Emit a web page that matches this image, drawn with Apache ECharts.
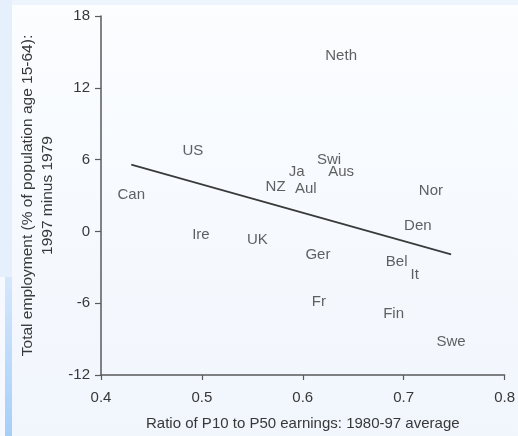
<!DOCTYPE html>
<html>
<head>
<meta charset="utf-8">
<script src="https://cdn.jsdelivr.net/npm/echarts@6/dist/echarts.min.js"></script>
<style>
html,body{margin:0;padding:0;background:#eef5fd;}
#c{width:518px;height:436px;}
</style>
</head>
<body>
<div id="c"></div>
<script>
const countries = ['Neth','US','Can','Swi','Ja','Aus','NZ','Aul','Nor','Den','Ire','UK','Ger','Bel','It','Fr','Fin','Swe'];
const ratioP10P50 = [0.638,0.491,0.430,0.626,0.594,0.638,0.573,0.603,0.727,0.714,0.499,0.555,0.615,0.693,0.711,0.616,0.690,0.747];
const employmentChange = [14.67,6.75,3.08,6.0,5.0,5.0,3.75,3.58,3.42,0.5,-0.33,-0.67,-2.0,-2.58,-3.67,-5.92,-6.92,-9.25];
const fitX = [0.43, 0.747];
const fitY = [5.58, -1.92];
const xTicks = [0.4, 0.5, 0.6, 0.7, 0.8];
const yTicks = [-12, -6, 0, 6, 12, 18];

const chart = echarts.init(document.getElementById('c'), null, {renderer:'canvas'});
const font = 'Liberation Sans, Arial, Helvetica, sans-serif';
const txt = '#383838';
chart.setOption({
  backgroundColor: 'transparent',
  animation: false,
  graphic: [
    {type:'rect', left:0, top:0, shape:{width:518,height:436}, style:{fill:'#eef5fd'}, z:-10, silent:true},
    {type:'rect', left:0, top:0, shape:{width:12,height:277}, style:{fill:'#e6f0fc'}, z:-9, silent:true},
    {type:'rect', left:12, top:5, shape:{width:506,height:431},
      style:{fill:new echarts.graphic.LinearGradient(0,0,0,1,[{offset:0,color:'#fbfdff'},{offset:1,color:'#f1f6fd'}])}, z:-9, silent:true},
    {type:'rect', left:0, top:277, shape:{width:5,height:159}, style:{fill:'#f6f9ff'}, z:-8, silent:true},
    {type:'rect', left:5, top:277, shape:{width:7,height:159},
      style:{fill:new echarts.graphic.LinearGradient(0,0,0,1,[{offset:0,color:'#d4e7fc'},{offset:1,color:'#a6cff8'}])}, z:-8, silent:true}
  ],
  grid: {left:101, right:13, top:16, bottom:60, containLabel:false},
  xAxis: {
    type:'value', min:0.4, max:0.8, interval:0.1,
    axisLine:{show:true, onZero:false, lineStyle:{color:'#5a5a5a', width:1.5}},
    axisTick:{show:true, length:5, lineStyle:{color:'#5a5a5a', width:1.2}},
    splitLine:{show:false},
    axisLabel:{color:txt, fontSize:15, fontFamily:font, margin:15,
      formatter: v => xTicks.find(t => Math.abs(t - v) < 1e-9)?.toFixed(1) ?? ''},
    name:'Ratio of P10 to P50 earnings: 1980-97 average',
    nameLocation:'middle', nameGap:41,
    nameTextStyle:{color:txt, fontSize:15, fontFamily:font}
  },
  yAxis: {
    type:'value', min:-12, max:18, interval:6,
    axisLine:{show:true, onZero:false, lineStyle:{color:'#5a5a5a', width:1.5}},
    axisTick:{show:true, length:6, lineStyle:{color:'#5a5a5a', width:1.2}},
    splitLine:{show:false},
    axisLabel:{color:txt, fontSize:15, fontFamily:font, margin:11,
      formatter: v => String(yTicks.find(t => t === v) ?? '')},
    name:'Total employment (% of population age 15-64):\n1997 minus 1979',
    nameLocation:'middle', nameGap:30, nameRotate:90,
    nameTextStyle:{color:txt, fontSize:15.5, fontFamily:font, lineHeight:20}
  },
  series: [
    {
      type:'scatter', symbolSize:1, itemStyle:{color:'rgba(0,0,0,0)'},
      data: countries.map((c,i)=>({name:c, value:[ratioP10P50[i], employmentChange[i]]})),
      label:{show:true, position:'inside', formatter:'{b}', color:txt, fontSize:15, fontFamily:font},
      z:3
    },
    {
      type:'line', symbol:'none',
      data: fitX.map((x,i)=>[x, fitY[i]]),
      lineStyle:{color:'#3a3a3a', width:1.6},
      z:2
    }
  ]
});
</script>
</body>
</html>
